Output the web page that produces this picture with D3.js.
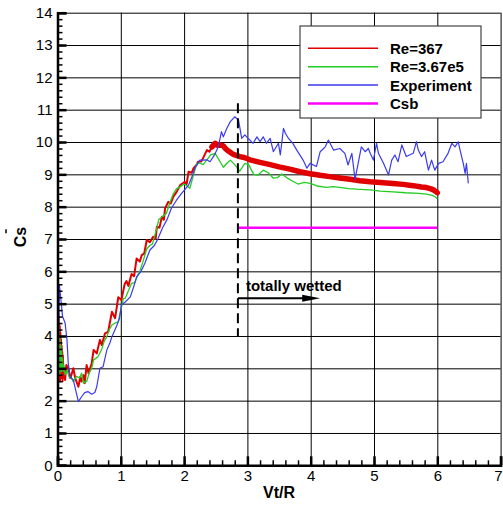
<!DOCTYPE html>
<html>
<head>
<meta charset="utf-8">
<script src="https://cdn.jsdelivr.net/npm/d3@7"></script>
<style>
  body { margin: 0; background: #fff; }
  svg { display: block; }
  text { font-family: "Liberation Sans", Arial, sans-serif; fill: #000; }
</style>
</head>
<body>
<svg id="chart" width="503" height="505"></svg>
<script>
// ---- data ----
const xTickValues = [0, 1, 2, 3, 4, 5, 6, 7];
const yTickValues = [0, 1, 2, 3, 4, 5, 6, 7, 8, 9, 10, 11, 12, 13, 14];

const seriesNames = ["Re=367", "Re=3.67e5", "Experiment", "Csb"];
const seriesColors = ["#e00000", "#22cc22", "#3a3aee", "#ff00ff"];

// Re=367 computation, [Vt/R, Cs]
const re367 = [
  [0,3.0],[0.004,4.8],[0.008,2.8],[0.012,4.7],[0.016,2.6],[0.02,4.6],[0.024,2.9],[0.028,4.4],
  [0.032,2.7],[0.036,4.3],[0.04,2.6],[0.045,4.1],[0.05,2.9],[0.055,3.9],[0.06,2.7],[0.065,3.7],
  [0.07,2.8],[0.075,3.5],[0.08,2.6],[0.085,3.4],[0.09,3.05],[0.1,2.8],[0.12,2.64],[0.14,3.1],
  [0.17,3.0],[0.2,2.7],[0.22,2.79],[0.25,3.0],[0.28,2.7],[0.3,2.59],[0.33,2.43],[0.36,2.74],
  [0.38,2.59],[0.41,2.79],[0.43,2.54],[0.46,3.1],[0.49,2.85],[0.54,3.15],[0.57,3.57],[0.62,3.46],
  [0.67,3.88],[0.7,3.72],[0.75,4.08],[0.8,4.13],[0.86,4.75],[0.91,4.55],[0.96,5.2],[1.01,5.11],
  [1.06,5.6],[1.09,5.7],[1.12,5.55],[1.17,5.92],[1.21,5.85],[1.25,6.4],[1.3,6.3],[1.33,6.5],
  [1.37,6.55],[1.41,6.97],[1.46,6.9],[1.51,7.07],[1.55,7.0],[1.57,7.38],[1.61,7.35],[1.65,7.69],
  [1.68,7.6],[1.7,7.95],[1.75,8.15],[1.79,8.1],[1.83,8.31],[1.88,8.45],[1.94,8.67],[2.01,8.77],
  [2.04,8.7],[2.07,9.08],[2.12,9.05],[2.15,9.19],[2.2,9.3],[2.22,9.39],[2.27,9.4],[2.3,9.5],
  [2.36,9.75],[2.4,9.7],[2.44,9.85],[2.49,9.96],[2.53,9.9],[2.57,9.91],[2.62,9.88],[2.65,9.8],
  [2.7,9.72],[2.75,9.65],[2.8,9.6],[2.88,9.55],[2.95,9.52],[3.04,9.45],[3.2,9.37],[3.36,9.3],
  [3.5,9.23],[3.67,9.16],[3.83,9.08],[3.99,9.02],[4.15,8.97],[4.3,8.93],[4.46,8.89],[4.62,8.85],
  [4.78,8.8],[4.94,8.77],[5.1,8.75],[5.3,8.72],[5.46,8.69],[5.62,8.65],[5.75,8.61],[5.83,8.59],
  [5.9,8.55],[5.94,8.52],[5.97,8.48],[6.0,8.43]
];

// Re=3.67e5 computation
const re367e5 = [
  [0,3.2],[0.006,4.3],[0.012,2.8],[0.018,4.2],[0.024,2.9],[0.03,4.0],[0.036,2.8],[0.042,3.9],
  [0.048,3.0],[0.054,3.7],[0.06,2.9],[0.066,3.5],[0.072,3.0],[0.08,3.3],[0.09,2.9],[0.1,3.1],
  [0.12,2.8],[0.15,2.95],[0.18,2.75],[0.22,2.69],[0.25,2.59],[0.3,2.75],[0.35,2.7],[0.38,2.85],
  [0.41,2.54],[0.44,2.6],[0.46,2.59],[0.5,2.85],[0.54,3.0],[0.57,3.26],[0.6,3.3],[0.64,3.36],
  [0.7,3.6],[0.74,3.85],[0.78,3.98],[0.82,4.2],[0.86,4.34],[0.91,4.4],[0.96,4.44],[1.0,4.8],
  [1.04,5.15],[1.07,5.17],[1.12,5.4],[1.17,5.63],[1.22,5.65],[1.26,5.85],[1.3,5.99],[1.35,6.3],
  [1.41,6.7],[1.46,6.8],[1.5,6.85],[1.55,7.2],[1.6,7.6],[1.66,7.7],[1.72,7.79],[1.77,8.1],
  [1.83,8.4],[1.88,8.55],[1.94,8.62],[2.0,8.7],[2.04,8.65],[2.09,8.57],[2.13,8.85],[2.2,9.34],
  [2.25,9.35],[2.3,9.3],[2.36,9.45],[2.42,9.6],[2.49,9.65],[2.55,9.45],[2.62,9.22],[2.68,9.35],
  [2.73,9.44],[2.8,9.3],[2.88,9.1],[2.96,9.34],[3.02,9.3],[3.1,9.0],[3.17,8.98],[3.25,9.13],
  [3.33,9.05],[3.41,8.88],[3.48,8.9],[3.54,9.01],[3.62,8.9],[3.73,8.77],[3.8,8.7],[3.9,8.75],
  [3.99,8.72],[4.1,8.64],[4.25,8.6],[4.35,8.62],[4.46,8.6],[4.6,8.56],[4.73,8.54],[4.85,8.53],
  [4.94,8.52],[5.1,8.48],[5.3,8.46],[5.5,8.43],[5.7,8.41],[5.83,8.39],[5.92,8.35],[5.97,8.3],
  [6.0,8.24]
];

// measured values
const experiment = [
  [0,2.6],[0.015,3.6],[0.03,5.58],[0.05,5.2],[0.08,4.6],[0.12,4.4],[0.15,3.88],[0.17,3.15],
  [0.2,2.74],[0.25,2.64],[0.29,2.3],[0.33,1.97],[0.38,2.12],[0.43,2.25],[0.48,2.28],[0.54,2.2],
  [0.59,2.25],[0.62,2.43],[0.67,3.0],[0.72,3.05],[0.78,3.57],[0.83,3.8],[0.86,3.98],[0.91,4.2],
  [0.94,4.34],[0.98,4.55],[1.01,4.96],[1.07,5.05],[1.15,5.21],[1.2,5.5],[1.25,5.83],[1.32,6.0],
  [1.38,6.25],[1.46,6.66],[1.53,6.8],[1.59,7.02],[1.66,7.35],[1.73,7.6],[1.8,7.95],[1.88,8.2],
  [1.96,8.41],[2.07,8.67],[2.12,8.9],[2.17,9.19],[2.25,9.44],[2.3,9.44],[2.36,9.45],[2.41,9.39],
  [2.48,9.6],[2.54,9.85],[2.59,10.32],[2.62,10.16],[2.67,10.4],[2.73,10.63],[2.8,10.78],[2.86,10.68],
  [2.91,10.11],[2.96,10.22],[3.01,10.11],[3.04,10.06],[3.09,9.96],[3.15,10.16],[3.2,10.01],[3.25,10.16],
  [3.3,9.96],[3.36,10.11],[3.41,9.7],[3.49,9.96],[3.52,9.6],[3.57,10.42],[3.6,10.27],[3.65,10.11],
  [3.72,9.95],[3.78,9.75],[3.88,9.44],[3.94,9.19],[3.99,9.34],[4.09,9.24],[4.15,9.7],[4.23,9.85],
  [4.28,10.06],[4.36,9.75],[4.46,9.8],[4.54,9.65],[4.59,9.29],[4.65,9.65],[4.7,8.85],[4.75,9.34],
  [4.8,9.85],[4.86,9.7],[4.91,9.8],[4.94,9.65],[4.99,9.44],[5.04,9.96],[5.07,9.65],[5.15,9.34],
  [5.23,8.98],[5.28,9.44],[5.33,9.6],[5.38,9.39],[5.44,9.91],[5.51,9.55],[5.62,9.65],[5.67,10.01],
  [5.7,9.75],[5.75,9.55],[5.8,9.7],[5.86,9.13],[5.91,9.44],[5.96,9.13],[6.02,9.34],[6.09,9.39],
  [6.17,9.65],[6.23,9.96],[6.28,9.85],[6.33,10.01],[6.36,9.75],[6.41,9.34],[6.44,9.03],[6.46,9.34],
  [6.49,8.72]
];

// Csb level over the totally wetted range
const csb = [[2.85, 7.35], [6.0, 7.35]];

// totally wetted marker: dashed line at Vt/R, its Cs span, and the arrow
const wettedX = 2.85;
const wettedSpan = [4.0, 11.2];
const arrowEndX = 4.15;
const arrowY = 5.17;
const wettedLabel = "totally wetted";
const wettedLabelY = 5.4;

// ---- layout ----
const svg = d3.select("#chart");
const x = d3.scaleLinear().domain([0, 7]).range([57.5, 500.6]);
const y = d3.scaleLinear().domain([0, 14]).range([465.3, 12.7]);
const plotW = x(7) - x(0), plotH = y(0) - y(14);

svg.append("defs").append("clipPath").attr("id", "plot")
  .append("rect").attr("x", x(0)).attr("y", y(14)).attr("width", plotW).attr("height", plotH);

// grid
const gx = svg.append("g").attr("transform", `translate(0,${y(0)})`)
  .call(d3.axisBottom(x).tickValues(xTickValues).tickSize(-plotH).tickFormat(""));
const gy = svg.append("g").attr("transform", `translate(${x(0)},0)`)
  .call(d3.axisLeft(y).tickValues(yTickValues).tickSize(-plotW).tickFormat(""));
[gx, gy].forEach(g => {
  g.select(".domain").remove();
  g.selectAll("line").attr("stroke", "#000").attr("stroke-width", 1);
});

// series
const line = d3.line().x(d => x(d[0])).y(d => y(d[1]));
const plot = svg.append("g").attr("clip-path", "url(#plot)")
  .attr("fill", "none").attr("stroke-linejoin", "round");

plot.append("path").datum(re367).attr("d", line)
  .attr("stroke", seriesColors[0]).attr("stroke-width", 2);
plot.append("path").datum(re367.filter(d => d[0] >= 2.42)).attr("d", line)
  .attr("stroke", seriesColors[0]).attr("stroke-width", 5.5).attr("stroke-linecap", "round");
plot.append("path").datum(re367e5).attr("d", line)
  .attr("stroke", seriesColors[1]).attr("stroke-width", 1.3);
plot.append("path").datum(experiment).attr("d", line)
  .attr("stroke", seriesColors[2]).attr("stroke-width", 1.2);
plot.append("path").datum(csb).attr("d", line)
  .attr("stroke", seriesColors[3]).attr("stroke-width", 2.5);

// totally wetted annotation
svg.append("line")
  .attr("x1", x(wettedX)).attr("x2", x(wettedX))
  .attr("y1", y(wettedSpan[1])).attr("y2", y(wettedSpan[0]))
  .attr("stroke", "#000").attr("stroke-width", 2).attr("stroke-dasharray", "10,5");
const tipX = x(arrowEndX), ay = y(arrowY);
svg.append("line")
  .attr("x1", x(wettedX)).attr("x2", tipX - 10).attr("y1", ay).attr("y2", ay)
  .attr("stroke", "#000").attr("stroke-width", 2);
svg.append("path")
  .attr("d", `M${tipX},${ay} L${tipX - 18},${ay - 3.5} L${tipX - 18},${ay + 3.5} Z`)
  .attr("fill", "#000");
svg.append("text")
  .attr("x", x(wettedX) + 8).attr("y", y(wettedLabelY))
  .attr("font-size", 15).attr("font-weight", "bold")
  .text(wettedLabel);

// legend
const legend = svg.append("g").attr("transform", "translate(300,26)");
legend.append("rect").attr("width", 181).attr("height", 92)
  .attr("fill", "#fff").attr("stroke", "#444").attr("stroke-width", 1.2);
seriesNames.forEach((name, i) => {
  const ly = 22.3 + i * 18.4;
  legend.append("line").attr("x1", 8).attr("x2", 78).attr("y1", ly).attr("y2", ly)
    .attr("stroke", seriesColors[i]).attr("stroke-width", i === 3 ? 2.5 : 1.5);
  legend.append("text").attr("x", 90).attr("y", ly + 5.5)
    .attr("font-size", 15).attr("font-weight", "bold").text(name);
});

// axes: inward major and minor ticks
const axisX = svg.append("g").attr("transform", `translate(0,${y(0)})`);
axisX.append("g").call(d3.axisBottom(x).tickValues(d3.range(0, 7.001, 0.2)).tickSize(-5).tickFormat(""))
  .call(g => g.select(".domain").remove())
  .selectAll("line").attr("stroke", "#000").attr("stroke-width", 1.5);
axisX.append("g").call(d3.axisBottom(x).tickValues(xTickValues).tickSize(-9).tickPadding(5).tickFormat(d3.format("d")))
  .call(g => g.select(".domain").attr("stroke", "#000").attr("stroke-width", 2.5))
  .call(g => g.selectAll("line").attr("stroke", "#000").attr("stroke-width", 2.5))
  .call(g => g.selectAll("text").attr("font-size", 15).attr("font-family", "Liberation Sans, Arial, sans-serif").attr("fill", "#000"));
// last label sits at the right edge of the window
axisX.selectAll("text").filter(d => d === 7).attr("text-anchor", "end").attr("x", 1.5);

const axisY = svg.append("g").attr("transform", `translate(${x(0)},0)`);
axisY.append("g").call(d3.axisLeft(y).tickValues(d3.range(0, 14.001, 0.2)).tickSize(-5).tickFormat(""))
  .call(g => g.select(".domain").remove())
  .selectAll("line").attr("stroke", "#000").attr("stroke-width", 1.5);
axisY.append("g").call(d3.axisLeft(y).tickValues(yTickValues).tickSize(-9).tickPadding(15).tickFormat(d3.format("d")))
  .call(g => g.select(".domain").attr("stroke", "#000").attr("stroke-width", 2.5))
  .call(g => g.selectAll("line").attr("stroke", "#000").attr("stroke-width", 2.5))
  .call(g => g.selectAll("text").attr("font-size", 15).attr("font-family", "Liberation Sans, Arial, sans-serif").attr("fill", "#000"));
axisY.selectAll("text").attr("x", -5);

// axis titles
svg.append("text")
  .attr("x", (x(0) + x(7)) / 2).attr("y", 498)
  .attr("text-anchor", "middle").attr("font-size", 16).attr("font-weight", "bold")
  .text("Vt/R");

const yTitle = svg.append("g").attr("transform", "translate(26,237) rotate(-90)");
const yText = yTitle.append("text").attr("text-anchor", "middle")
  .attr("font-size", 16).attr("font-weight", "bold").text("Cs");
const sStart = yText.node().getStartPositionOfChar(1).x;
const sEnd = yText.node().getEndPositionOfChar(1).x;
const sMid = (sStart + sEnd) / 2;
yTitle.append("line")
  .attr("x1", sMid - 2).attr("x2", sMid + 2).attr("y1", -20).attr("y2", -20)
  .attr("stroke", "#000").attr("stroke-width", 1.5);
</script>
</body>
</html>
